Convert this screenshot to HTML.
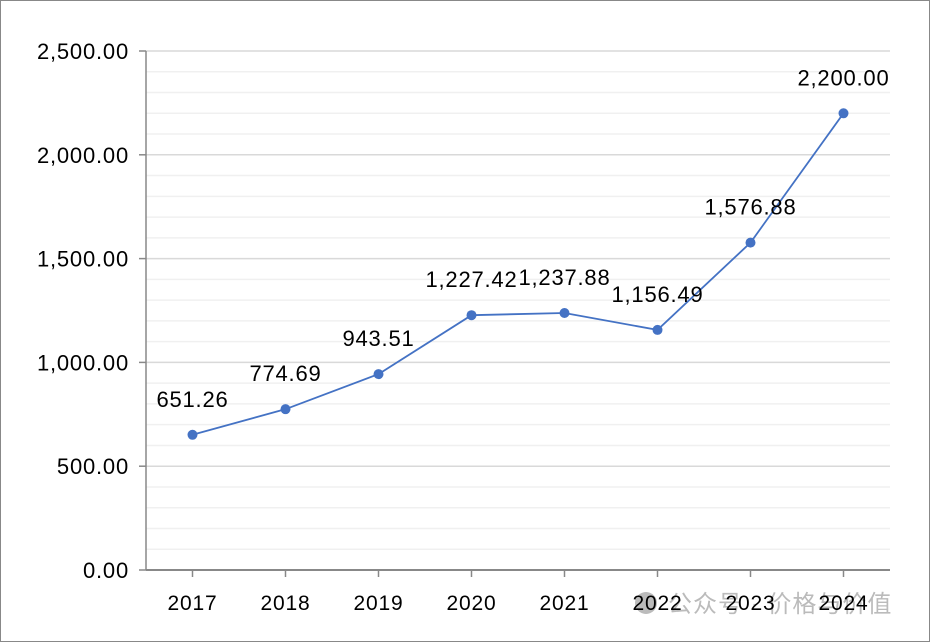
<!DOCTYPE html>
<html><head><meta charset="utf-8"><style>
html,body{margin:0;padding:0;background:#fff}
svg{display:block}
text{font-family:"Liberation Sans","Noto Sans CJK SC",sans-serif}
</style></head><body>
<svg id="chart" width="930" height="642" viewBox="0 0 930 642">
<rect x="0.5" y="0.5" width="929" height="641" fill="#fff" stroke="#888"/>
<circle cx="646" cy="603" r="11" fill="#bbb"/>
<text x="668" y="612" font-size="24" letter-spacing="1" fill="#bbb">公众号 · 价格与价值</text>
<g id="grid"></g><g id="axes"></g><g id="series"></g>
</svg>
<script>
const categories=['2017','2018','2019','2020','2021','2022','2023','2024'];
const values=[651.26,774.69,943.51,1227.42,1237.88,1156.49,1576.88,2200.00];
const yTicks=[0,500,1000,1500,2000,2500];
const L=146,R=890,T=51,B=570,YMAX=2500;
const ns='http://www.w3.org/2000/svg';
const bw=(R-L)/categories.length;
const x=i=>L+bw*(i+0.5);
const y=v=>B-(v/YMAX)*(B-T);
const fmt=v=>v.toLocaleString('en-US',{minimumFractionDigits:2,maximumFractionDigits:2});
function mk(tag,attrs,parent){const e=document.createElementNS(ns,tag);for(const k in attrs)e.setAttribute(k,attrs[k]);parent.appendChild(e);return e;}
const grid=document.getElementById('grid'),axes=document.getElementById('axes'),series=document.getElementById('series');
for(let v=100;v<YMAX;v+=100){if(v%500===0)continue;
 const g=mk('line',{x1:L,x2:R,y1:y(v),y2:y(v),stroke:'#f0f0f0','stroke-width':1.5},grid);
 
 }
yTicks.forEach(v=>{
 if(v>0){const g=mk('line',{x1:L,x2:R,y1:y(v),y2:y(v),stroke:'#d9d9d9','stroke-width':1.5},grid);
 
 }
 const t=mk('line',{x1:139,x2:L,y1:y(v),y2:y(v),stroke:'#888','stroke-width':1.5},axes);
 
 
 const lb=mk('text',{x:129,y:y(v)+8,'text-anchor':'end','font-size':22,'letter-spacing':0.8,fill:'#000'},axes);
 lb.textContent=fmt(v);
 
 
});
const ya=mk('line',{x1:L,x2:L,y1:T,y2:B,stroke:'#888','stroke-width':1.5},axes);


const xa=mk('line',{x1:L,x2:R,y1:B,y2:B,stroke:'#888','stroke-width':2},axes);


categories.forEach((c,i)=>{
 const t=mk('line',{x1:x(i),x2:x(i),y1:B,y2:B+7,stroke:'#888','stroke-width':1.5},axes);
 
 
 const lb=mk('text',{x:x(i),y:610,'text-anchor':'middle','font-size':21,'letter-spacing':0.8,fill:'#000'},axes);
 lb.textContent=c;
 
 
});
const pl=mk('polyline',{points:values.map((v,i)=>x(i)+','+y(v)).join(' '),fill:'none',stroke:'#4472c4','stroke-width':1.8},series);


values.forEach((v,i)=>{
 const c=mk('circle',{cx:x(i),cy:y(v),r:5,fill:'#4472c4'},series);
 
 
 const lb=mk('text',{x:x(i),y:y(v)-28,'text-anchor':'middle','font-size':22,'letter-spacing':0.8,fill:'#000'},series);
 lb.textContent=fmt(v);
 
 
});
</script>
</body></html>
